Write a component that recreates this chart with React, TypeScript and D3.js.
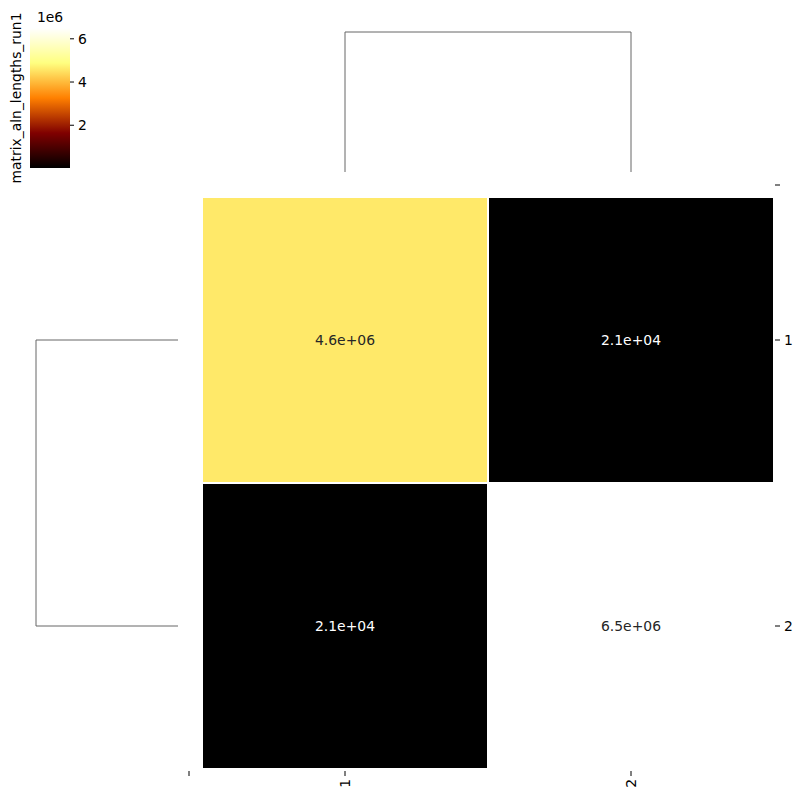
import React from "react";
import * as d3 from "d3";

const rowLabels = ["1", "2"];
const colLabels = ["1", "2"];
const values = [
  [4.6e6, 2.1e4],
  [2.1e4, 6.5e6],
];
const cellText = [
  ["4.6e+06", "2.1e+04"],
  ["2.1e+04", "6.5e+06"],
];
const vmin = 2.1e4;
const vmax = 6.5e6;
const cbarTicks = [2e6, 4e6, 6e6];
const linkHeight = 1; // single merge of the two leaves

// matplotlib afmhot
const afmhot = (t: number) => {
  const c = (v: number) => Math.round(255 * Math.max(0, Math.min(1, v)));
  return `rgb(${c(2 * t)},${c(2 * t - 0.5)},${c(2 * t - 1)})`;
};

const font = "DejaVu Sans, sans-serif";
const fs = 13.9;

export default function App() {
  const width = 803;
  const height = 799;

  const x = d3.scaleBand().domain(colLabels).range([202, 774]);
  const y = d3.scaleBand().domain(rowLabels).range([197, 769]);
  const norm = d3.scaleLinear().domain([vmin, vmax]).range([0, 1]).clamp(true);

  // colorbar
  const cbX = 30, cbW = 40;
  const cbY = d3.scaleLinear().domain([vmin, vmax]).range([168, 28]);
  const stops = d3.range(0, 1.0001, 0.05);

  // dendrograms
  const colH = d3.scaleLinear().domain([0, linkHeight]).range([172, 32]);
  const rowH = d3.scaleLinear().domain([0, linkHeight]).range([178, 36]);
  const linkColor = "#666666";

  const cx = (l: string) => (x(l) as number) + x.bandwidth() / 2;
  const cy = (l: string) => (y(l) as number) + y.bandwidth() / 2;

  return (
    <svg width={width} height={height} style={{ display: "block", position: "absolute", left: 0, top: 0 }}>
      <rect width={width} height={height} fill="white" />
      <defs>
        <linearGradient id="cb" x1="0" y1="1" x2="0" y2="0">
          {stops.map((s) => (
            <stop key={s} offset={s} stopColor={afmhot(s)} />
          ))}
        </linearGradient>
      </defs>

      {/* heatmap cells */}
      {rowLabels.map((r, i) =>
        colLabels.map((c, j) => {
          const t = norm(values[i][j]);
          return (
            <g key={`${r}-${c}`}>
              <rect
                x={x(c)}
                y={y(r)}
                width={x.bandwidth()}
                height={y.bandwidth()}
                fill={afmhot(t)}
                stroke="white"
                strokeWidth={2}
              />
              <text
                x={cx(c)}
                y={cy(r)}
                dy="0.35em"
                textAnchor="middle"
                fontFamily={font}
                fontSize={fs}
                fill={t < 0.5 ? "white" : "#262626"}
              >
                {cellText[i][j]}
              </text>
            </g>
          );
        })
      )}

      {/* right tick labels */}
      <line x1={775} x2={780} y1={185} y2={185} stroke="black" />
      {rowLabels.map((r) => (
        <g key={r}>
          <line x1={775} x2={780} y1={cy(r)} y2={cy(r)} stroke="black" />
          <text x={784} y={cy(r)} dy="0.35em" fontFamily={font} fontSize={fs}>
            {r}
          </text>
        </g>
      ))}

      {/* bottom tick labels */}
      <line x1={189} x2={189} y1={771} y2={776} stroke="black" />
      {colLabels.map((c) => (
        <g key={c}>
          <line x1={cx(c)} x2={cx(c)} y1={771} y2={776} stroke="black" />
          <text
            transform={`translate(${cx(c)},779) rotate(-90)`}
            dy="0.35em"
            textAnchor="end"
            fontFamily={font}
            fontSize={fs}
          >
            {c}
          </text>
        </g>
      ))}

      {/* column dendrogram */}
      <path
        d={`M${cx(colLabels[0])},${colH(0)}V${colH(linkHeight)}H${cx(colLabels[1])}V${colH(0)}`}
        fill="none"
        stroke={linkColor}
        strokeWidth={1}
      />
      {/* row dendrogram */}
      <path
        d={`M${rowH(0)},${cy(rowLabels[0])}H${rowH(linkHeight)}V${cy(rowLabels[1])}H${rowH(0)}`}
        fill="none"
        stroke={linkColor}
        strokeWidth={1}
      />

      {/* colorbar */}
      <rect x={cbX} y={cbY(vmax)} width={cbW} height={cbY(vmin) - cbY(vmax)} fill="url(#cb)" />
      {cbarTicks.map((t) => (
        <g key={t}>
          <line x1={cbX + cbW} x2={cbX + cbW + 4} y1={cbY(t)} y2={cbY(t)} stroke="black" />
          <text x={cbX + cbW + 8} y={cbY(t)} dy="0.35em" fontFamily={font} fontSize={fs}>
            {t / 1e6}
          </text>
        </g>
      ))}
      <text x={cbX + cbW / 2} y={22} textAnchor="middle" fontFamily={font} fontSize={fs}>
        1e6
      </text>
      <text
        transform={`translate(21,${(cbY(vmin) + cbY(vmax)) / 2}) rotate(-90)`}
        textAnchor="middle"
        fontFamily={font}
        fontSize={fs}
      >
        matrix_aln_lengths_run1
      </text>
    </svg>
  );
}
